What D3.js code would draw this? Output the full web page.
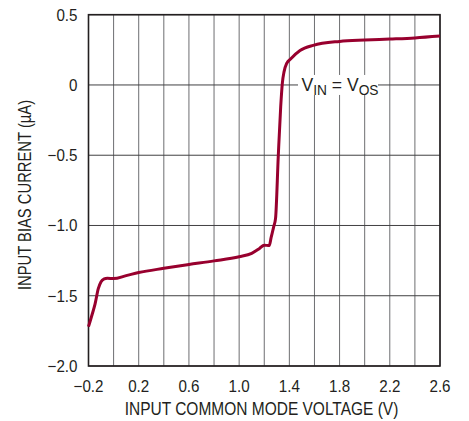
<!DOCTYPE html>
<html>
<head>
<meta charset="utf-8">
<script src="https://cdn.jsdelivr.net/npm/d3@7"></script>
<style>
  html, body { margin: 0; padding: 0; background: #fff; }
  svg text { font-family: "Liberation Sans", Arial, sans-serif; fill: #231f20; }
</style>
</head>
<body>
<svg id="chart" width="469" height="421"></svg>
<script>
// Input common mode voltage (V) and input bias current (µA)
const voltage = [-0.2, -0.17, -0.148, -0.122, -0.1, -0.075, -0.05, 0.0, 0.1, 0.2, 0.4, 0.6, 0.8, 1.0, 1.1, 1.16, 1.2, 1.24, 1.255, 1.275, 1.29, 1.312, 1.331, 1.344, 1.358, 1.38, 1.41, 1.485, 1.59, 1.8, 2.0, 2.2, 2.4, 2.6];
const biasCurrent = [-1.72, -1.63, -1.56, -1.45, -1.40, -1.38, -1.375, -1.378, -1.357, -1.335, -1.305, -1.278, -1.252, -1.222, -1.198, -1.165, -1.14, -1.143, -1.085, -1.01, -0.95, -0.5, -0.155, 0.012, 0.095, 0.155, 0.185, 0.245, 0.282, 0.31, 0.32, 0.327, 0.335, 0.348];

const xGrid = d3.range(0, 15).map(i => +(-0.2 + i * 0.2).toFixed(1));
const xTickLabels = [-0.2, 0.2, 0.6, 1.0, 1.4, 1.8, 2.2, 2.6];
const yTickLabels = [0.5, 0, -0.5, -1.0, -1.5, -2.0];

const svg = d3.select("#chart");
const pLeft = 88.5, pRight = 440, pTop = 14.7, pBottom = 366;

const x = d3.scaleLinear().domain([-0.2, 2.6]).range([pLeft, pRight]);
const y = d3.scaleLinear().domain([-2.0, 0.5]).range([pBottom, pTop]);

const fmt = v => {
  if (v === 0) return "0";
  const s = Math.abs(v).toFixed(1);
  return (v < 0 ? "\u2212" : "") + s;
};

// grid
svg.append("g").selectAll("line").data(xGrid).join("line")
  .attr("x1", d => x(d)).attr("x2", d => x(d))
  .attr("y1", pTop).attr("y2", pBottom)
  .attr("stroke", "#6d6e71").attr("stroke-width", 1);
svg.append("g").selectAll("line").data(yTickLabels).join("line")
  .attr("x1", pLeft).attr("x2", pRight)
  .attr("y1", d => y(d)).attr("y2", d => y(d))
  .attr("stroke", "#414042").attr("stroke-width", 1);

// frame
svg.append("rect")
  .attr("x", pLeft).attr("y", pTop)
  .attr("width", pRight - pLeft).attr("height", pBottom - pTop)
  .attr("fill", "none").attr("stroke", "#231f20").attr("stroke-width", 1.6);

// tick labels (slightly condensed)
svg.append("g").selectAll("text").data(xTickLabels).join("text")
  .attr("transform", d => `translate(${x(d)},392) scale(0.92,1)`)
  .attr("text-anchor", "middle").attr("font-size", 16.5)
  .text(fmt);
svg.append("g").selectAll("text").data(yTickLabels).join("text")
  .attr("transform", d => `translate(77.5,${y(d) + 5.8}) scale(0.92,1)`)
  .attr("text-anchor", "end").attr("font-size", 16.5)
  .text(fmt);

// axis titles
svg.append("text")
  .attr("transform", `translate(261.5,415) scale(0.886,1)`)
  .attr("text-anchor", "middle").attr("font-size", 17.5)
  .text("INPUT COMMON MODE VOLTAGE (V)");
svg.append("text")
  .attr("transform", `translate(31,195) rotate(-90) scale(0.845,1)`)
  .attr("text-anchor", "middle").attr("font-size", 17.5)
  .text("INPUT BIAS CURRENT (\u00b5A)");

// curve
const pts = voltage.map((v, i) => [v, biasCurrent[i]]);
svg.append("path")
  .datum(pts)
  .attr("fill", "none")
  .attr("stroke", "#98002e")
  .attr("stroke-width", 3)
  .attr("stroke-linejoin", "round")
  .attr("d", d3.line().x(d => x(d[0])).y(d => y(d[1])).curve(d3.curveMonotoneX));

// annotation
const ann = svg.append("g");
ann.append("rect")
  .attr("x", 298).attr("y", y(0) - 10).attr("width", 80).attr("height", 20)
  .attr("fill", "#fff");
const t = ann.append("text")
  .attr("transform", `translate(340,${y(0) + 6}) scale(0.95,1)`)
  .attr("text-anchor", "middle").attr("font-size", 18.5);
t.append("tspan").text("V");
t.append("tspan").attr("font-size", 14.5).attr("dy", 4).text("IN");
t.append("tspan").attr("dy", -4).text(" = V");
t.append("tspan").attr("font-size", 14.5).attr("dy", 4).text("OS");
</script>
</body>
</html>
